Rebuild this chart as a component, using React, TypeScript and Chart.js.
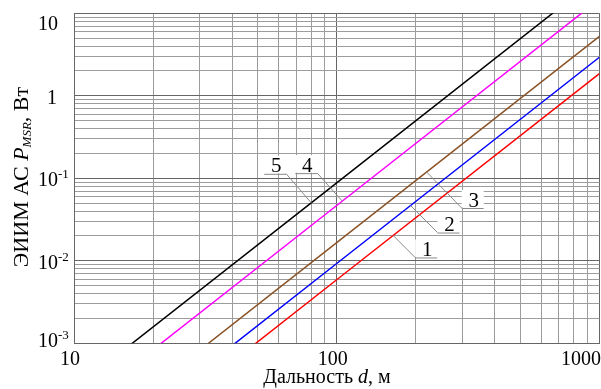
import React, { useEffect, useRef } from "react";
import { Chart, registerables } from "chart.js";

Chart.register(...registerables);

// Distance, m
const distances = [10, 100, 1000];

// EIRP of the subscriber station, W, for curves 1..5
const curve1 = [1.86e-5, 5.89e-3, 1.86];
const curve2 = [2.93e-5, 9.27e-3, 2.93];
const curve3 = [5.25e-5, 1.66e-2, 5.25];
const curve4 = [1.48e-4, 4.68e-2, 14.8];
const curve5 = [2.79e-4, 8.81e-2, 27.9];

const curveNames = ["1", "2", "3", "4", "5"];
const curveColors = ["#ff0000", "#0000ff", "#8b5428", "#ff00ff", "#000000"];

// Axis decades
const xDecades = [10, 100, 1000];
const yDecades = [1e-3, 1e-2, 1e-1, 1, 10];

// Callout labels: curve index, distance of the pointed spot, offset of the label shelf
const calloutCurve = [4, 3, 2, 1, 0];
const calloutDistance = [80, 105, 220, 191, 164];
const calloutDx = [-25, -25, 35, 27, 22];
const calloutDy = [-29, -28, 36, 27, 22];

const FONT = '"Liberation Serif", "Times New Roman", serif';

const allCurves = [curve1, curve2, curve3, curve4, curve5];

function logTicks(decades: number[]): number[] {
  const out: number[] = [];
  for (let i = 0; i < decades.length; i++) {
    out.push(decades[i]);
    if (i < decades.length - 1) {
      for (let k = 2; k <= 9; k++) out.push(decades[i] * k);
    }
  }
  return out;
}

function isDecade(v: number): boolean {
  const l = Math.log10(v);
  return Math.abs(l - Math.round(l)) < 1e-6;
}

// log-log interpolation along a curve
function valueAt(curve: number[], d: number): number {
  const ld = Math.log10(d);
  for (let i = 0; i < distances.length - 1; i++) {
    const a = Math.log10(distances[i]);
    const b = Math.log10(distances[i + 1]);
    if (ld >= a && ld <= b) {
      const t = (ld - a) / (b - a);
      const ya = Math.log10(curve[i]);
      const yb = Math.log10(curve[i + 1]);
      return Math.pow(10, ya + t * (yb - ya));
    }
  }
  return curve[curve.length - 1];
}

type Seg = { text: string; font: string; dy: number };

function drawRich(ctx: CanvasRenderingContext2D, segs: Seg[], x: number, y: number, align: "left" | "center") {
  let total = 0;
  for (const s of segs) {
    ctx.font = s.font;
    total += ctx.measureText(s.text).width;
  }
  let cx = align === "center" ? x - total / 2 : x;
  ctx.textAlign = "left";
  ctx.textBaseline = "alphabetic";
  for (const s of segs) {
    ctx.font = s.font;
    ctx.fillText(s.text, cx, y + s.dy);
    cx += ctx.measureText(s.text).width;
  }
}

const overlayPlugin = {
  id: "overlay",
  afterDatasetsDraw(chart: any) {
    const ctx: CanvasRenderingContext2D = chart.ctx;
    const xs = chart.scales.x;
    const ys = chart.scales.y;
    const area = chart.chartArea;
    ctx.save();
    ctx.fillStyle = "#000";

    // x tick labels
    ctx.font = `20px ${FONT}`;
    ctx.textBaseline = "alphabetic";
    for (const v of xDecades) {
      const label = String(v);
      const w = ctx.measureText(label).width;
      let cx = xs.getPixelForValue(v) - 4;
      if (cx + w / 2 > chart.width) cx = chart.width - w / 2;
      ctx.textAlign = "center";
      ctx.fillText(label, cx, 365);
    }

    // y tick labels
    for (const v of yDecades) {
      const n = Math.round(Math.log10(v));
      let cy = ys.getPixelForValue(v) + 1;
      cy = Math.max(cy, area.top + 9.2);
      cy = Math.min(cy, area.bottom - 3.3);
      const base = cy + 7;
      if (n === 0) {
        drawRich(ctx, [{ text: "1", font: `20px ${FONT}`, dy: 0 }], 52, base, "center");
      } else if (n === 1) {
        drawRich(ctx, [{ text: "10", font: `20px ${FONT}`, dy: 0 }], 38, base, "left");
      } else {
        drawRich(
          ctx,
          [
            { text: "10", font: `20px ${FONT}`, dy: 0 },
            { text: String(n), font: `13px ${FONT}`, dy: -8 },
          ],
          38,
          base,
          "left"
        );
      }
    }

    // x axis title
    drawRich(
      ctx,
      [
        { text: "Дальность ", font: `20px ${FONT}`, dy: 0 },
        { text: "d", font: `italic 20px ${FONT}`, dy: 0 },
        { text: ", м", font: `20px ${FONT}`, dy: 0 },
      ],
      327,
      383,
      "center"
    );

    // y axis title
    ctx.save();
    ctx.translate(28, 177);
    ctx.rotate(-Math.PI / 2);
    drawRich(
      ctx,
      [
        { text: "ЭИИМ АС ", font: `22px ${FONT}`, dy: 0 },
        { text: "P", font: `italic 22px ${FONT}`, dy: 0 },
        { text: "MSR", font: `italic 13px ${FONT}`, dy: 3 },
        { text: ", Вт", font: `22px ${FONT}`, dy: 0 },
      ],
      0,
      0,
      "center"
    );
    ctx.restore();

    // callouts
    for (let i = 0; i < calloutCurve.length; i++) {
      const c = calloutCurve[i];
      const d = calloutDistance[i];
      const px = xs.getPixelForValue(d);
      const py = ys.getPixelForValue(valueAt(allCurves[c], d));
      const ex = px + calloutDx[i];
      const ey = py + calloutDy[i];
      const shelf = 22;
      const x0 = calloutDx[i] < 0 ? ex - shelf : ex;
      const x1 = x0 + shelf;
      // background
      ctx.fillStyle = "#ffffff";
      ctx.fillRect(x0, ey - 18, shelf, 17.5);
      // leader and shelf
      ctx.strokeStyle = "#8a8a8a";
      ctx.lineWidth = 1;
      ctx.beginPath();
      ctx.moveTo(px, py);
      ctx.lineTo(ex, ey);
      ctx.moveTo(x0, ey + 0.5);
      ctx.lineTo(x1, ey + 0.5);
      ctx.stroke();
      ctx.fillStyle = "#000";
      ctx.font = `21px ${FONT}`;
      ctx.textAlign = "center";
      ctx.textBaseline = "alphabetic";
      ctx.fillText(curveNames[c], (x0 + x1) / 2 + 1, ey - 1.5);
    }

    ctx.restore();
  },
};

export default function App() {
  const canvasRef = useRef<HTMLCanvasElement | null>(null);

  useEffect(() => {
    if (!canvasRef.current) return;
    const datasets = allCurves.map((curve, i) => ({
      label: curveNames[i],
      data: distances.map((d, j) => ({ x: d, y: curve[j] })),
      borderColor: curveColors[i],
      borderWidth: 1.5,
      pointRadius: 0,
      tension: 0,
      fill: false,
    }));

    const chart = new Chart(canvasRef.current, {
      type: "line",
      data: { datasets },
      options: {
        animation: false,
        responsive: false,
        events: [],
        layout: { padding: { left: 0, top: 13.3, right: 1.6, bottom: 0 } },
        plugins: { legend: { display: false }, tooltip: { enabled: false } },
        scales: {
          x: {
            type: "logarithmic",
            min: 10,
            max: 1000,
            afterBuildTicks: (scale: any) => {
              scale.ticks = logTicks(xDecades).map((v) => ({ value: v }));
            },
            afterFit: (scale: any) => {
              scale.height = 45.7;
            },
            ticks: { display: false },
            grid: {
              drawTicks: false,
              lineWidth: 1,
              color: (c: any) => (c.tick && isDecade(c.tick.value) ? "#666666" : "#9c9c9c"),
            },
            border: { display: true, color: "#666666", width: 1 },
          },
          y: {
            type: "logarithmic",
            min: 1e-3,
            max: 10,
            afterBuildTicks: (scale: any) => {
              scale.ticks = logTicks(yDecades).map((v) => ({ value: v }));
            },
            afterFit: (scale: any) => {
              scale.width = 74;
            },
            ticks: { display: false },
            grid: {
              drawTicks: false,
              lineWidth: 1,
              color: (c: any) => (c.tick && isDecade(c.tick.value) ? "#666666" : "#9c9c9c"),
            },
            border: { display: true, color: "#666666", width: 1 },
          },
        },
      },
      plugins: [overlayPlugin],
    } as any);

    return () => chart.destroy();
  }, []);

  return (
    <div style={{ position: "fixed", left: 0, top: 0, width: 601, height: 389, background: "#fff" }}>
      <canvas ref={canvasRef} width={601} height={389} style={{ display: "block" }} />
    </div>
  );
}
